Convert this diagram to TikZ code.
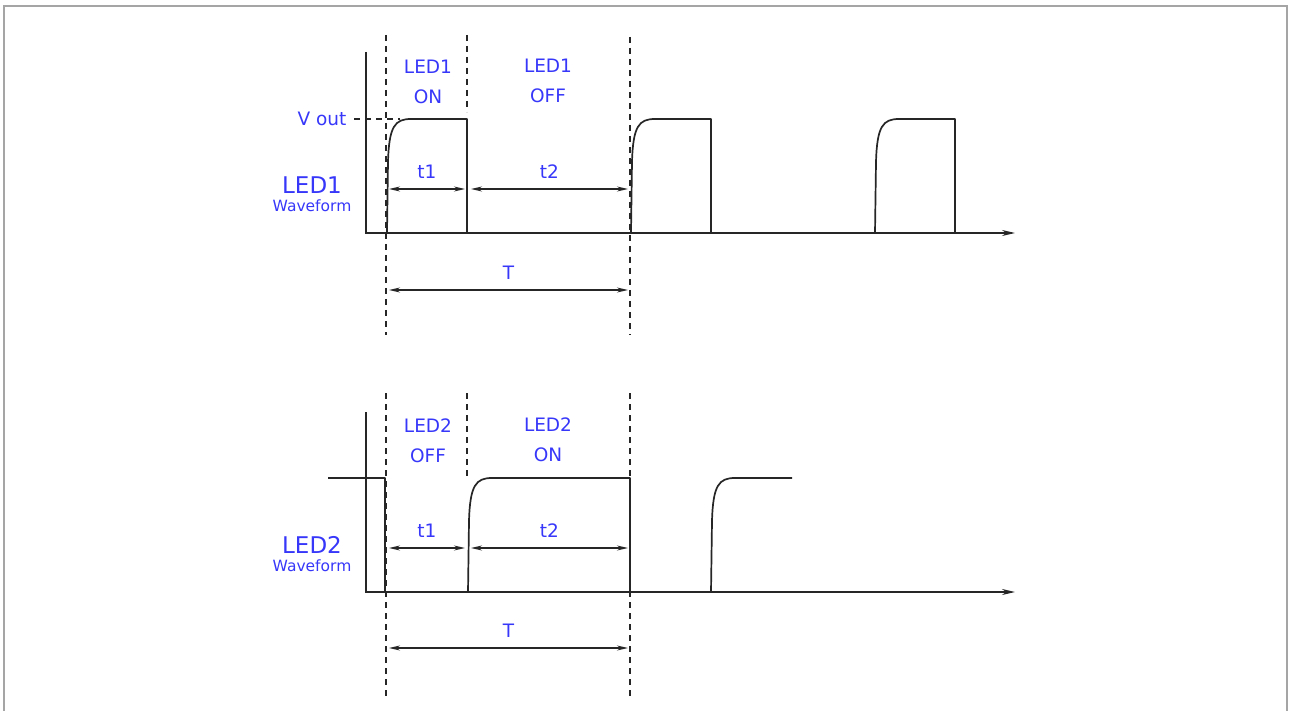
\documentclass[tikz,border=0pt]{standalone}
\usepackage{fontspec}
\setmainfont{DejaVu Sans}
\usepackage{tikz}
\usetikzlibrary{positioning,arrows.meta}
\definecolor{labelblue}{RGB}{55,55,250}
\definecolor{framegray}{RGB}{165,165,165}

\begin{document}
\begin{tikzpicture}[
  x=1pt, y=-1pt, >=Stealth,
  wave/.style={draw=black!85, line width=1.7pt, line join=round},
  axis/.style={draw=black!85, line width=1.7pt, -{Stealth[length=13pt,width=6pt]}},
  guide/.style={draw=black!85, line width=1.4pt, dash pattern=on 6pt off 5pt},
  span/.style={draw=black!85, line width=1.5pt, {Stealth[length=11pt,width=5pt]}-{Stealth[length=11pt,width=5pt]}},
  lbl/.style={text=labelblue, align=center, inner sep=0pt, font=\fontsize{18.5}{30}\selectfont},
  big/.style={text=labelblue, inner sep=0pt, font=\fontsize{23}{24}\selectfont},
  small/.style={text=labelblue, inner sep=0pt, font=\fontsize{15.5}{16}\selectfont}
]
  \useasboundingbox (0,0) rectangle (1290,711);
  \draw[framegray, line width=2pt] (4,711) -- (4,6) -- (1287,6) -- (1287,711);

  % LED1
  \coordinate (o1) at (366,233);
  \coordinate (y1) at (366,52);
  \coordinate (x1) at (1015,233);
  \draw[guide] (386,35) -- (386,335);
  \draw[guide] (467,35) -- (467,112);
  \draw[guide] (630,37) -- (630,335);
  \draw[guide] (354,119) -- (400,119);
  \draw[axis] (y1) -- (o1) -- (x1);
  \foreach \x in {387,631,875}
    \draw[wave] (\x,233) -- (\x+1,162) .. controls (\x+2,126) and (\x+8,119) .. (\x+24,119) -- (\x+80,119) -- (\x+80,233);

  \node[lbl] (on1) at (428,82) {LED1\\ON};
  \node[lbl] (off1) at (548,81) {LED1\\OFF};
  \node[lbl] (vout) at (322,119) {V out};
  \node[big] (name1) at (312,185) {LED1};
  \node[small, below=6pt of name1] (form1) {Waveform};

  \coordinate (a1) at (389,189);
  \coordinate (b1) at (465,189);
  \coordinate (c1) at (471,189);
  \coordinate (d1) at (628,189);
  \coordinate (e1) at (389,290);
  \coordinate (f1) at (628,290);
  \draw[span] (a1) -- node[lbl, above=10pt] (t11) {t1} (b1);
  \draw[span] (c1) -- node[lbl, above=10pt] (t21) {t2} (d1);
  \draw[span] (e1) -- node[lbl, above=10pt] (per1) {T} (f1);

  % LED2
  \coordinate (o2) at (366,592);
  \coordinate (y2) at (366,412);
  \coordinate (x2) at (1015,592);
  \draw[guide] (386,393) -- (386,697);
  \draw[guide] (467,393) -- (467,478);
  \draw[guide] (630,393) -- (630,697);
  \draw[axis] (y2) -- (o2) -- (x2);
  \draw[wave] (328,478) -- (385,478) -- (385,592) -- (468,592) -- (469,521)
    .. controls (470,485) and (476,478) .. (492,478) -- (630,478) -- (630,592) -- (711,592)
    -- (712,521) .. controls (713,485) and (719,478) .. (735,478) -- (792,478);

  \node[lbl] (off2) at (428,441) {LED2\\OFF};
  \node[lbl] (on2) at (548,440) {LED2\\ON};
  \node[big] (name2) at (312,545) {LED2};
  \node[small, below=6pt of name2] (form2) {Waveform};

  \coordinate (a2) at (389,548);
  \coordinate (b2) at (465,548);
  \coordinate (c2) at (471,548);
  \coordinate (d2) at (628,548);
  \coordinate (e2) at (389,648);
  \coordinate (f2) at (628,648);
  \draw[span] (a2) -- node[lbl, above=10pt] (t12) {t1} (b2);
  \draw[span] (c2) -- node[lbl, above=10pt] (t22) {t2} (d2);
  \draw[span] (e2) -- node[lbl, above=10pt] (per2) {T} (f2);
\end{tikzpicture}
\end{document}
